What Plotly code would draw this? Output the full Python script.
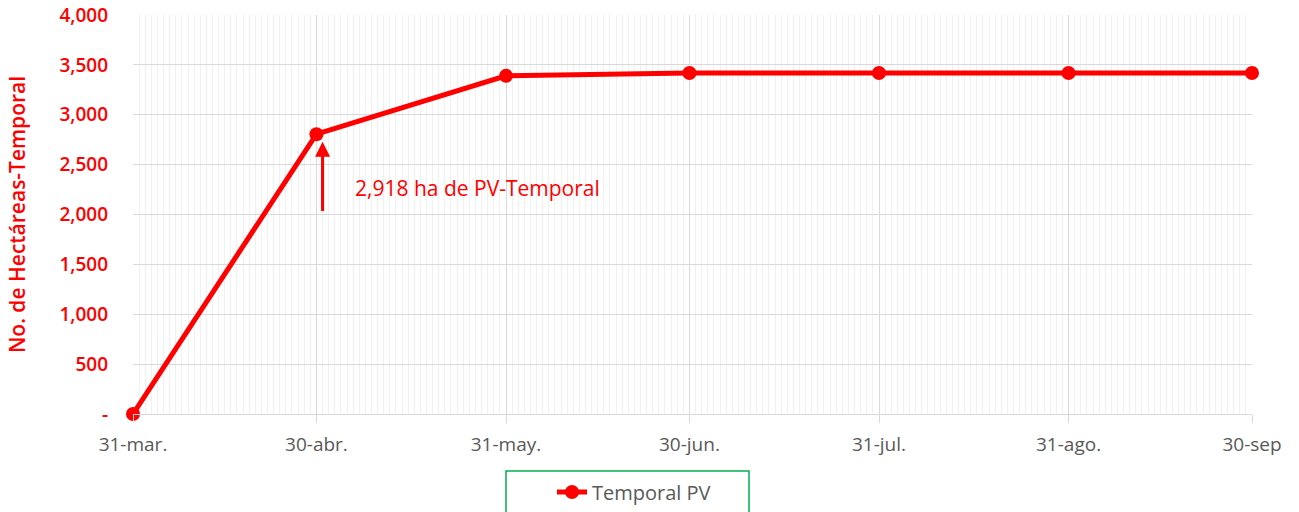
import plotly.graph_objects as go

dates = ["2024-03-31", "2024-04-30", "2024-05-31", "2024-06-30", "2024-07-31", "2024-08-31", "2024-09-30"]
hectareas = [0, 2805, 3390, 3418, 3418, 3418, 3418]
tick_labels = ["31-mar.", "30-abr.", "31-may.", "30-jun.", "31-jul.", "31-ago.", "30-sep"]
y_ticks = [0, 500, 1000, 1500, 2000, 2500, 3000, 3500, 4000]
y_labels = ["-", "500", "1,000", "1,500", "2,000", "2,500", "3,000", "3,500", "4,000"]

RED = "#FF0000"
GRAY = "#595959"
FONT = "Open Sans"
W, H = 1299, 512

fig = go.Figure()
fig.add_trace(go.Scatter(
    x=dates, y=hectareas, mode="lines+markers", name="Temporal PV",
    line=dict(color=RED, width=5),
    marker=dict(color=RED, size=14),
    cliponaxis=False,
))

# arrow pointing up to the 30-abr point
fig.add_annotation(
    x="2024-05-01", y=2730, ax="2024-05-01", ay=2020,
    xref="x", yref="y", axref="x", ayref="y",
    text="", showarrow=True, arrowhead=2, arrowsize=1, arrowwidth=3, arrowcolor=RED,
)
fig.add_annotation(
    x="2024-05-06", y=2270, xref="x", yref="y", xanchor="left", yanchor="middle",
    text="2,918 ha de PV-Temporal", showarrow=False,
    font=dict(family=FONT, size=21, color=RED, weight=500),
)

# legend frame
fig.add_shape(
    type="rect", xref="paper", yref="paper",
    x0=(506 - 133) / 1119, x1=(749 - 133) / 1119,
    y0=(414 - 530) / 399, y1=(414 - 471) / 399,
    line=dict(color="#00B050", width=1.5), fillcolor="rgba(0,0,0,0)",
)

fig.update_layout(
    width=W, height=H,
    margin=dict(l=133, r=47, t=15, b=98),
    plot_bgcolor="white", paper_bgcolor="white",
    showlegend=True,
    legend=dict(
        orientation="h", xref="container", yref="container",
        x=552 / W, y=1 - 492 / H,
        xanchor="left", yanchor="middle",
        borderwidth=0, bgcolor="rgba(0,0,0,0)",
        font=dict(family=FONT, size=20, color=GRAY),
    ),
)
fig.update_xaxes(
    type="date", range=["2024-03-31", "2024-09-30"],
    tickvals=dates, ticktext=tick_labels, automargin=False,
    tickfont=dict(family=FONT, size=19, color=GRAY),
    showgrid=True, gridcolor="#D9D9D9", gridwidth=1,
    ticks="outside", ticklen=8, tickcolor="#D9D9D9", ticklabelstandoff=5,
    showline=True, linecolor="#D9D9D9",
    minor=dict(dtick=86400000, showgrid=True, gridcolor="#F0F0F0", gridwidth=1),
    zeroline=False,
)
fig.update_yaxes(
    range=[0, 4000], tickvals=y_ticks, ticktext=y_labels, automargin=False,
    tickfont=dict(family=FONT, size=19, color=RED, weight=600),
    showgrid=True, gridcolor="#D9D9D9", gridwidth=1,
    zeroline=False, showline=False, ticklabelstandoff=24,
    title=dict(text="No. de Hectáreas-Temporal",
               font=dict(family=FONT, size=21, color=RED, weight=600), standoff=28),
)

fig.write_html("out.html", config={"displayModeBar": False},
               post_script="document.body.style.margin='0';")
